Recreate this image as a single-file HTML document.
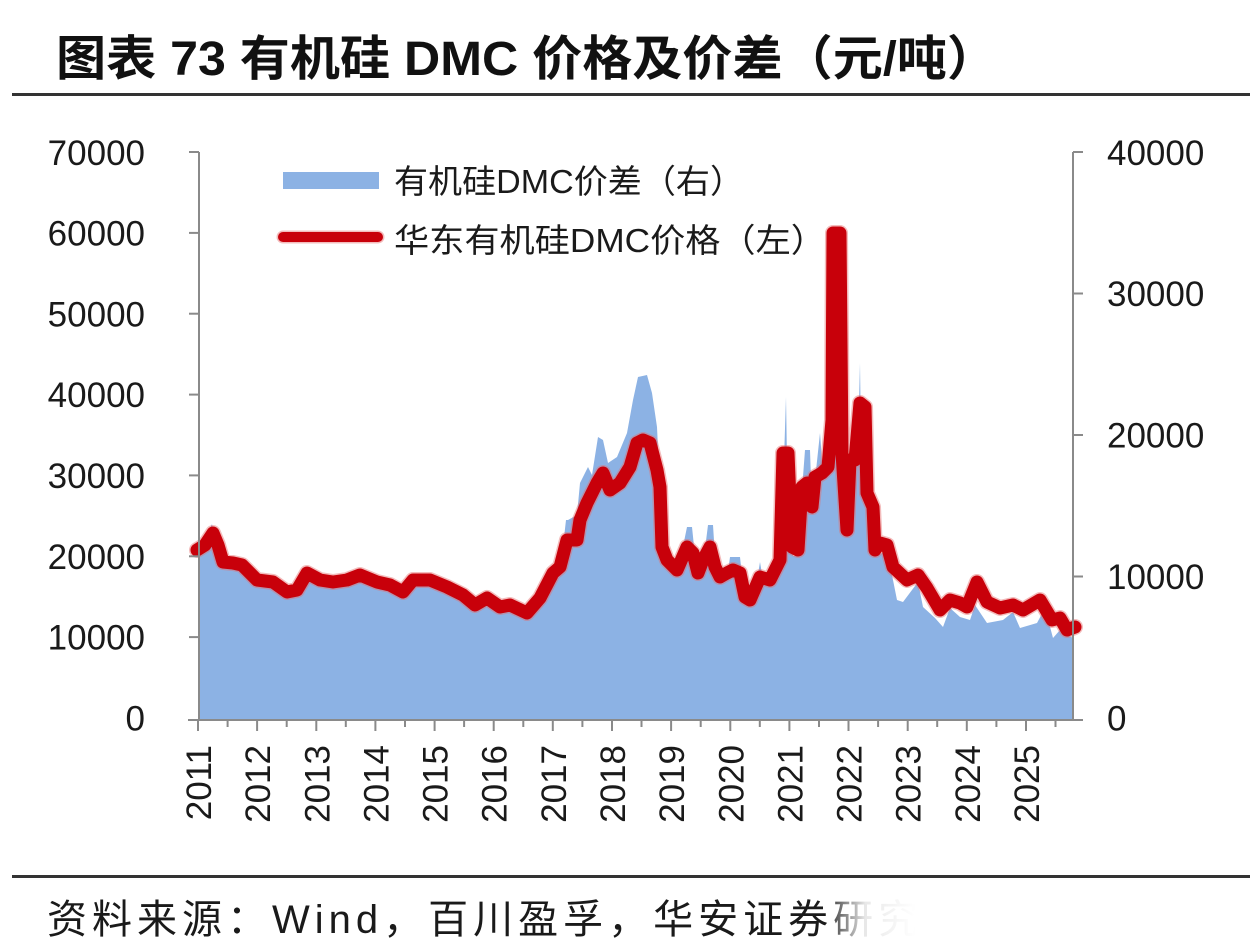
<!DOCTYPE html>
<html>
<head>
<meta charset="utf-8">
<style>
  html,body{margin:0;padding:0;background:#ffffff;}
  body{width:1250px;height:952px;overflow:hidden;}
  svg{display:block;}
</style>
</head>
<body>
<svg width="1250" height="952" viewBox="0 0 1250 952" xmlns="http://www.w3.org/2000/svg">
  <defs>
    <linearGradient id="fade" x1="0" y1="0" x2="1" y2="0">
      <stop offset="0" stop-color="#ffffff" stop-opacity="0.2"/>
      <stop offset="0.08" stop-color="#ffffff" stop-opacity="0.9"/>
      <stop offset="0.2" stop-color="#ffffff" stop-opacity="1"/>
      <stop offset="1" stop-color="#ffffff" stop-opacity="1"/>
    </linearGradient>
  </defs>
  <rect x="0" y="0" width="1250" height="952" fill="#ffffff"/>

  <!-- Title -->
  <text x="56" y="75" font-family="'Liberation Sans','Noto Sans CJK SC',sans-serif" font-weight="bold" font-size="48" fill="#111" textLength="941" lengthAdjust="spacingAndGlyphs">图表 73 有机硅 DMC 价格及价差（元/吨）</text>
  <rect x="12" y="93" width="1238" height="3" fill="#333"/>

  <!-- Blue area (spread, right axis) -->
  <polygon fill="#8cb2e4" points="198,720 198,545 205,540 212,524 215,540 223,568 242,571 257,586 273,588 287,598 297,596 307,579 320,586 333,588 347,586 360,581 377,588 390,591 403,598 413,586 430,586 447,593 463,601 475,611 487,604 500,613 510,611 527,619 540,604 550,583 560,573 566,520 568,520 577,515 580,483 588,467 592,475 598,437 603,440 608,463 617,457 627,433 633,400 638,377 647,375 652,393 657,427 660,490 663,555 667,566 677,576 687,527 692,527 697,575 703,565 708,525 713,525 716,572 720,583 727,579 730,557 740,557 745,603 750,606 757,580 760,562 763,580 770,586 780,566 784,460 786,397 787,460 790,460 793,556 798,556 802,490 805,450 810,450 812,510 815,480 820,433 823,475 828,470 832,430 836,440 842,460 847,477 852,470 858,440 860,363 861,440 865,470 870,500 875,556 887,551 893,580 897,600 903,602 918,582 923,607 935,618 943,627 950,608 960,617 970,620 975,605 987,623 1003,620 1013,612 1020,628 1037,623 1045,608 1053,638 1060,630 1073,638 1074,720"/>

  <!-- Red line (price, left axis) -->
  <polyline fill="none" stroke="#e46a6a" stroke-opacity="0.45" stroke-width="16" stroke-linejoin="round" stroke-linecap="round"
    points="197,550 205,545 213,533 218,545 223,562 233,563 242,565 257,580 273,582 287,592 297,590 307,573 320,580 333,582 347,580 360,575 377,582 390,585 403,592 413,580 430,580 447,587 463,595 475,605 487,598 500,607 510,605 527,613 540,598 553,573 560,567 567,540 577,540 580,520 587,503 597,483 603,473 610,490 620,483 630,467 637,443 643,440 650,443 657,470 660,487 662,547 667,560 677,570 687,547 693,553 698,573 703,560 710,547 715,567 720,577 727,573 733,570 740,573 745,597 750,600 760,577 770,580 780,560 783,453 788,453 792,547 798,550 802,487 807,483 812,507 815,477 822,473 828,467 832,420 833,233 840,233 842,453 847,530 850,460 855,460 860,403 865,407 867,493 873,507 875,550 880,543 887,545 893,567 907,580 918,575 927,588 940,610 950,600 960,603 967,607 977,582 987,602 1000,608 1013,605 1023,610 1040,600 1052,620 1060,618 1067,630 1075,627"/>
  <polyline fill="none" stroke="#c8000a" stroke-width="13" stroke-linejoin="round" stroke-linecap="round"
    points="197,550 205,545 213,533 218,545 223,562 233,563 242,565 257,580 273,582 287,592 297,590 307,573 320,580 333,582 347,580 360,575 377,582 390,585 403,592 413,580 430,580 447,587 463,595 475,605 487,598 500,607 510,605 527,613 540,598 553,573 560,567 567,540 577,540 580,520 587,503 597,483 603,473 610,490 620,483 630,467 637,443 643,440 650,443 657,470 660,487 662,547 667,560 677,570 687,547 693,553 698,573 703,560 710,547 715,567 720,577 727,573 733,570 740,573 745,597 750,600 760,577 770,580 780,560 783,453 788,453 792,547 798,550 802,487 807,483 812,507 815,477 822,473 828,467 832,420 833,233 840,233 842,453 847,530 850,460 855,460 860,403 865,407 867,493 873,507 875,550 880,543 887,545 893,567 907,580 918,575 927,588 940,610 950,600 960,603 967,607 977,582 987,602 1000,608 1013,605 1023,610 1040,600 1052,620 1060,618 1067,630 1075,627"/>

  <!-- Axes -->
  <g stroke="#8a8a8a" stroke-width="2" fill="none">
    <line x1="199" y1="152" x2="199" y2="720"/>
    <line x1="189" y1="152" x2="199" y2="152"/>
    <line x1="189" y1="232.9" x2="199" y2="232.9"/>
    <line x1="189" y1="313.7" x2="199" y2="313.7"/>
    <line x1="189" y1="394.6" x2="199" y2="394.6"/>
    <line x1="189" y1="475.4" x2="199" y2="475.4"/>
    <line x1="189" y1="556.3" x2="199" y2="556.3"/>
    <line x1="189" y1="637.1" x2="199" y2="637.1"/>

    <line x1="1073" y1="152" x2="1073" y2="720"/>
    <line x1="1073" y1="152" x2="1083" y2="152"/>
    <line x1="1073" y1="293.5" x2="1083" y2="293.5"/>
    <line x1="1073" y1="435" x2="1083" y2="435"/>
    <line x1="1073" y1="576.5" x2="1083" y2="576.5"/>

    <line x1="188" y1="720" x2="1083" y2="720"/>
    <path d="M198,720v11 M257.1,720v11 M316.3,720v11 M375.4,720v11 M434.6,720v11 M493.7,720v11 M552.8,720v11 M612,720v11 M671.1,720v11 M730.3,720v11 M789.4,720v11 M848.5,720v11 M907.7,720v11 M966.8,720v11 M1026,720v11"/>
    <path d="M227.6,720v7 M286.7,720v7 M345.8,720v7 M405,720v7 M464.1,720v7 M523.3,720v7 M582.4,720v7 M641.5,720v7 M700.7,720v7 M759.8,720v7 M819,720v7 M878.1,720v7 M937.2,720v7 M996.4,720v7 M1055.5,720v7"/>
  </g>

  <!-- Left axis labels -->
  <g font-family="'Liberation Sans',sans-serif" font-size="35" fill="#1a1a1a" text-anchor="end">
    <text x="145" y="165">70000</text>
    <text x="145" y="245.5">60000</text>
    <text x="145" y="326.3">50000</text>
    <text x="145" y="407.2">40000</text>
    <text x="145" y="488">30000</text>
    <text x="145" y="568.9">20000</text>
    <text x="145" y="649.7">10000</text>
    <text x="145" y="730.5">0</text>
  </g>
  <!-- Right axis labels -->
  <g font-family="'Liberation Sans',sans-serif" font-size="35" fill="#1a1a1a" text-anchor="start">
    <text x="1107" y="165">40000</text>
    <text x="1107" y="306">30000</text>
    <text x="1107" y="447.5">20000</text>
    <text x="1107" y="589">10000</text>
    <text x="1107" y="730.5">0</text>
  </g>
  <!-- X axis labels (rotated) -->
  <g font-family="'Liberation Sans',sans-serif" font-size="35" fill="#1a1a1a" text-anchor="end">
    <text transform="translate(211,745) rotate(-90)">2011</text>
    <text transform="translate(270.1,745) rotate(-90)">2012</text>
    <text transform="translate(329.3,745) rotate(-90)">2013</text>
    <text transform="translate(388.4,745) rotate(-90)">2014</text>
    <text transform="translate(447.6,745) rotate(-90)">2015</text>
    <text transform="translate(506.7,745) rotate(-90)">2016</text>
    <text transform="translate(565.8,745) rotate(-90)">2017</text>
    <text transform="translate(625,745) rotate(-90)">2018</text>
    <text transform="translate(684.1,745) rotate(-90)">2019</text>
    <text transform="translate(743.3,745) rotate(-90)">2020</text>
    <text transform="translate(802.4,745) rotate(-90)">2021</text>
    <text transform="translate(861.5,745) rotate(-90)">2022</text>
    <text transform="translate(920.7,745) rotate(-90)">2023</text>
    <text transform="translate(979.8,745) rotate(-90)">2024</text>
    <text transform="translate(1039,745) rotate(-90)">2025</text>
  </g>

  <!-- Legend -->
  <rect x="283" y="172" width="96" height="17" fill="#8cb2e4"/>
  <text x="394" y="193" font-family="'Liberation Sans','Noto Sans CJK SC',sans-serif" font-size="33" fill="#1a1a1a" textLength="350" lengthAdjust="spacingAndGlyphs">有机硅DMC价差（右）</text>
  <line x1="283" y1="237" x2="378" y2="237" stroke="#e46a6a" stroke-opacity="0.45" stroke-width="13" stroke-linecap="round"/>
  <line x1="283" y1="237" x2="378" y2="237" stroke="#c8000a" stroke-width="10" stroke-linecap="round"/>
  <text x="394" y="252" font-family="'Liberation Sans','Noto Sans CJK SC',sans-serif" font-size="33" fill="#1a1a1a" textLength="432" lengthAdjust="spacingAndGlyphs">华东有机硅DMC价格（左）</text>

  <!-- Footer -->
  <rect x="12" y="875" width="1238" height="3" fill="#333"/>
  <text x="47" y="933" font-family="'Liberation Sans','Noto Sans CJK SC',sans-serif" font-size="40" fill="#1a1a1a" letter-spacing="5">资料来源：Wind，百川盈孚，华安证券研究所</text>
  <rect x="832" y="890" width="418" height="55" fill="url(#fade)"/>
</svg>
</body>
</html>
